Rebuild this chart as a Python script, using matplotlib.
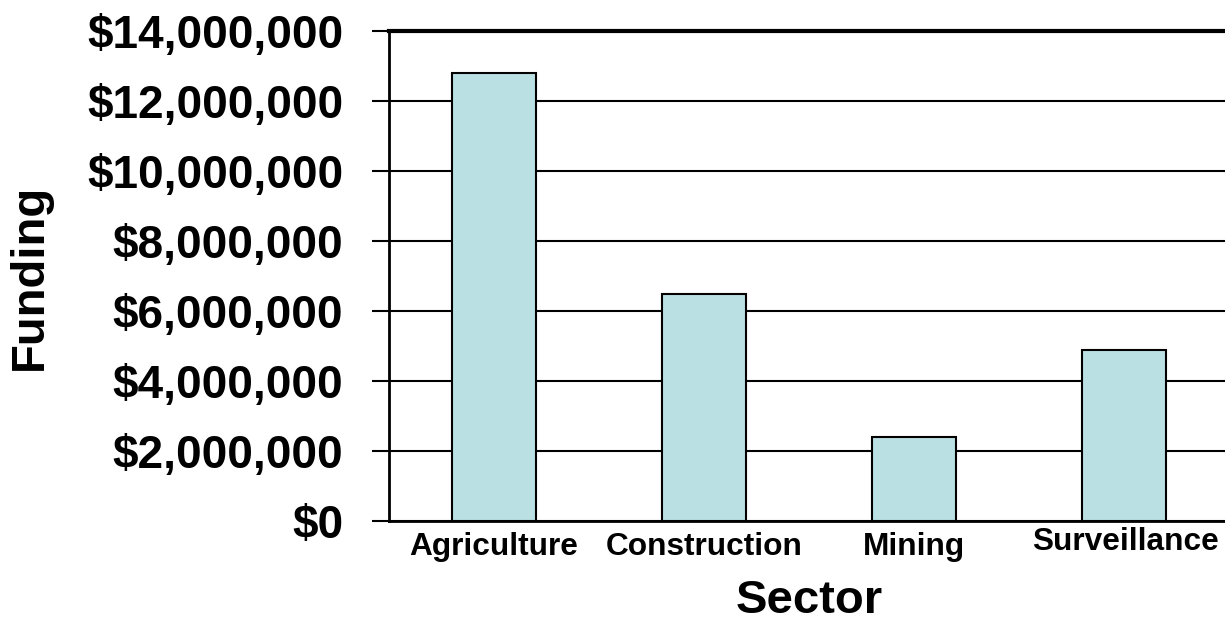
import matplotlib
matplotlib.use("Agg")
import matplotlib.pyplot as plt
from matplotlib.ticker import FuncFormatter, MultipleLocator
from matplotlib.transforms import ScaledTranslation

# Funding by sector
sectors = ["Agriculture", "Construction", "Mining", "Surveillance"]
funding = [12_800_000, 6_500_000, 2_400_000, 4_900_000]

plt.rcParams["font.family"] = ["Liberation Sans", "DejaVu Sans"]
plt.rcParams["font.weight"] = "bold"

fig = plt.figure(figsize=(12.25, 6.26), dpi=100)
ax = fig.add_axes([389 / 1225, 1 - 521 / 626, 840 / 1225, 490 / 626])

x = list(range(len(sectors)))
ax.bar(x, funding, width=0.4, color="#BBE0E3", edgecolor="black",
       linewidth=1.5, zorder=3)

ax.set_xlim(-0.5, 3.5)
ax.set_ylim(0, 14_000_000)
ax.yaxis.set_major_locator(MultipleLocator(2_000_000))
ax.yaxis.set_major_formatter(FuncFormatter(lambda v, _: f"${v:,.0f}"))
ax.grid(axis="y", color="black", linewidth=1.5, zorder=0)

ax.set_xticks(x)
ax.set_xticklabels(sectors, fontsize=22.8, fontweight="bold")
ax.tick_params(axis="x", length=0, pad=8)
ax.tick_params(axis="y", direction="out", length=12, width=1.5,
               labelsize=33, pad=21)
for lbl in ax.get_yticklabels():
    lbl.set_fontweight("bold")

# The last label sits a little higher than the others
last = ax.get_xticklabels()[-1]
last.set_transform(last.get_transform() + ScaledTranslation(0.02, 0.05, fig.dpi_scale_trans))

for side in ["left", "bottom"]:
    ax.spines[side].set_linewidth(2)
ax.spines["top"].set_linewidth(3)
ax.spines["right"].set_visible(False)

fig.text(809 / 1225, 1 - 601 / 626, "Sector", fontsize=34, fontweight="bold",
         ha="center", va="center")
fig.text(30 / 1225, 1 - 277 / 626, "Funding", fontsize=34, fontweight="bold",
         ha="center", va="center", rotation=90)

fig.savefig("out.png", dpi=100)
